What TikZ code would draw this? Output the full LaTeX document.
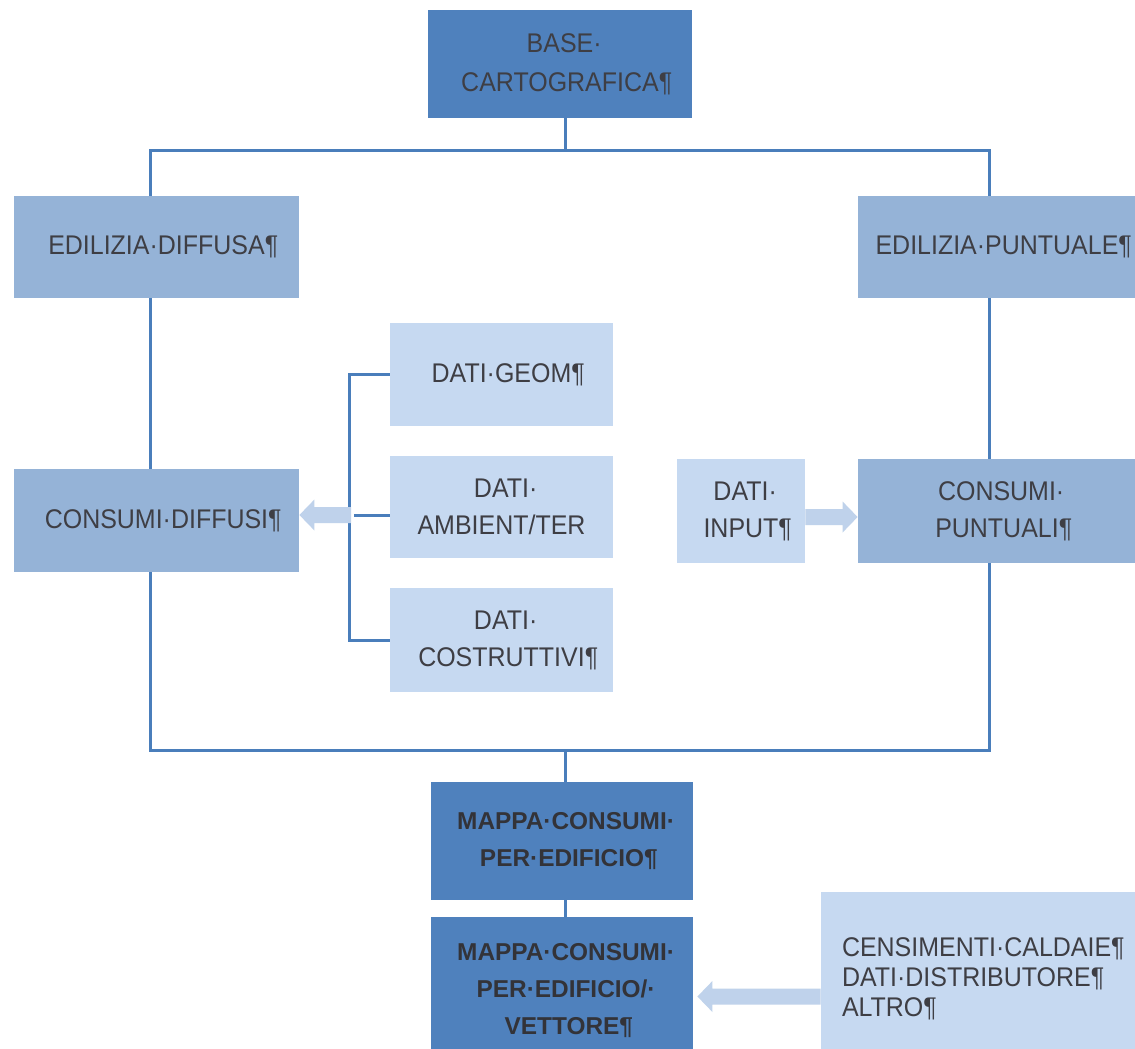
\documentclass[tikz,border=0pt]{standalone}
\usepackage{fontspec}
\setmainfont{Liberation Sans}[FakeStretch=0.925]
\newfontfamily\mapfont{Liberation Sans}
\usetikzlibrary{calc}

\definecolor{dkblue}{HTML}{4F81BD}
\definecolor{mdblue}{HTML}{95B3D7}
\definecolor{ltblue}{HTML}{C6D9F1}
\definecolor{linecol}{HTML}{4A7EBB}
\definecolor{arrowcol}{HTML}{BFD2EB}
\definecolor{txt}{HTML}{3E3E44}
\definecolor{txtdark}{HTML}{333338}

% Horizontal block arrow from the first point towards the x of the second one
\newcommand{\blockarrow}[2]{%
  \fill[fatarrow] let \p1=#1, \p2=#2, \n1={ifthenelse(\x2>\x1,1,-1)} in
    (\x1,\y1+4pt) -- (\x2-\n1*7.5pt,\y1+4pt) -- (\x2-\n1*7.5pt,\y1+7.75pt)
    -- (\x2,\y1) -- (\x2-\n1*7.5pt,\y1-7.75pt) -- (\x2-\n1*7.5pt,\y1-4pt)
    -- (\x1,\y1-4pt) -- cycle;}

\begin{document}
\begin{tikzpicture}[x=0.5pt,y=-0.5pt,
  box/.style={rectangle, inner sep=0pt, align=center, text=txt,
    font=\fontsize{13.5pt}{18.5pt}\selectfont},
  darkbox/.style={box, fill=dkblue},
  midbox/.style={box, fill=mdblue},
  lightbox/.style={box, fill=ltblue},
  boldtext/.style={text=txtdark, font=\mapfont\fontsize{12.2pt}{18.5pt}\selectfont\bfseries},
  conn/.style={draw=linecol, line width=1.5pt},
  fatarrow/.style={fill=arrowcol},
]
\useasboundingbox (0,0) rectangle (1135,1049);
\fill[white] (0,0) rectangle (1135,1049);
\clip (0,0) rectangle (1135,1049);

% boxes
\node[darkbox, minimum width=132pt, minimum height=54pt,
  font=\fontsize{13.5pt}{19.5pt}\selectfont] (base) at (560,64)
  {\raisebox{0pt}[\height][0pt]{}BASE\rlap{·}\\CARTOGRAFICA\rlap{¶}};
\node[midbox, minimum width=142.5pt, minimum height=51pt] (edd) at (156.5,247)
  {EDILIZIA·DIFFUSA\rlap{¶}};
\node[midbox, minimum width=139pt, minimum height=51pt] (edp) at (997,247)
  {EDILIZIA·PUNTUALE\rlap{¶}};
\node[midbox, minimum width=142.5pt, minimum height=51.5pt] (cd) at (156.5,520.5)
  {CONSUMI·DIFFUSI\rlap{¶}};
\node[midbox, minimum width=139pt, minimum height=52pt] (cp) at (997,511)
  {CONSUMI\rlap{·}\\PUNTUALI\rlap{¶}};
\node[lightbox, minimum width=64pt, minimum height=52pt] (inp) at (741,511)
  {DATI\rlap{·}\\INPUT\rlap{¶}};
\node[lightbox, minimum width=111.5pt, minimum height=51.5pt] (geom) at (501.5,374.5)
  {DATI·GEOM\rlap{¶}};
\node[lightbox, minimum width=111.5pt, minimum height=51pt] (amb) at (501.5,507)
  {DATI\rlap{·}\\AMBIENT/TER};
\node[lightbox, minimum width=111.5pt, minimum height=52pt] (costr) at (501.5,640)
  {DATI\rlap{·}\\COSTRUTTIVI\rlap{¶}};
\node[darkbox, boldtext, minimum width=131pt, minimum height=59pt] (map1) at (562,841)
  {MAPPA·CONSUMI\rlap{·}\\PER·EDIFICIO\rlap{¶}};
\node[darkbox, boldtext, minimum width=131pt, minimum height=74pt] (map2) at (562,991)
  {MAPPA·CONSUMI\rlap{·}\\PER·EDIFICIO/\rlap{·}\\VETTORE\rlap{¶}};
\node[lightbox, minimum width=164.5pt, minimum height=86.5pt, text width=143.5pt,
  inner xsep=10.5pt, align=left, font=\fontsize{13.5pt}{15pt}\selectfont] (cens) at (985.5,978.5)
  {CENSIMENTI·CALDAIE¶\\DATI·DISTRIBUTORE¶\\ALTRO¶};

% junction points of the tree
\coordinate (tj) at (565,150);
\coordinate (tl) at (150,150);
\coordinate (tr) at (989,150);
\coordinate (bl) at (150,750);
\coordinate (br) at (989,750);
\coordinate (bj) at (565,750);
\coordinate (brk) at (349,515);

% connectors
\draw[conn] (edd.north -| tl) -- (tl) -- (tr) -- (edp.north -| tr);
\draw[conn] (base.south -| tj) -- (tj);
\draw[conn] (edd.south -| tl) -- (cd.north -| tl);
\draw[conn] (edp.south -| tr) -- (cp.north -| tr);
\draw[conn] (cd.south -| bl) -- (bl) -- (br) -- (cp.south -| br);
\draw[conn] (bj) -- (map1.north -| bj);
\draw[conn] (map1.south -| bj) -- (map2.north -| bj);

% bracket collecting the data boxes
\draw[conn] (geom.west) -- (geom.west -| brk) -- (costr.west -| brk) -- (costr.west);
\draw[conn] ($(brk)+(5,0)$) -- (amb.west |- brk);

% block arrows
\blockarrow{($(brk)+(2,0)$)}{(cd.east)}
\blockarrow{($(inp.east)+(0,6)$)}{(cp.west)}
\blockarrow{($(cens.west)+(0,18)$)}{($(map2.east)+(4,0)$)}
\end{tikzpicture}
\end{document}
